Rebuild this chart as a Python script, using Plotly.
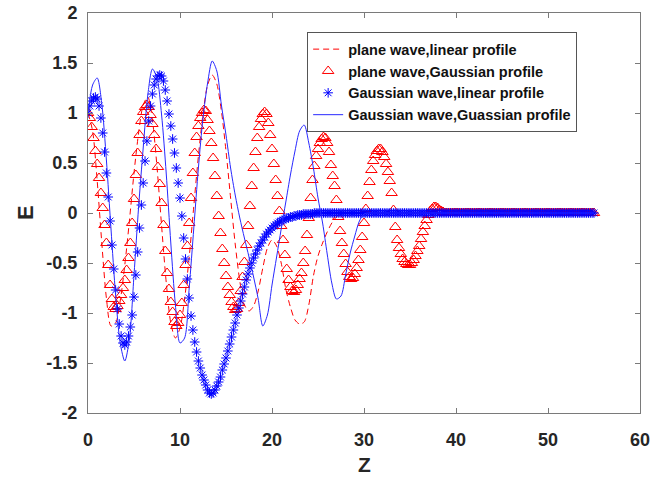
import numpy as np
import plotly.graph_objects as go

# sampling positions (z) for marker series (step 0.2) and line series (step 0.5)
Z_MARK = np.round(np.arange(276) * 0.2, 1)
Z_LINE = np.round(np.arange(111) * 0.5, 1)

# plane wave, linear profile (red dashed) - sampled on Z_LINE
plane_linear = [
    1.00, 0.82, 0.32, -0.30, -0.85, -1.13, -1.10, -0.88, -0.52, -0.08,
    0.40, 0.80, 1.08, 1.16, 0.93, 0.46, -0.13, -0.69, -1.10, -1.25,
    -1.15, -0.86, -0.44, 0.07, 0.57, 0.99, 1.28, 1.38, 1.29, 1.02,
    0.62, 0.15, -0.31, -0.68, -0.92, -0.98, -0.93, -0.78, -0.55, -0.35,
    -0.27, -0.33, -0.50, -0.76, -0.94, -1.07, -1.11, -1.09, -0.92, -0.63,
    -0.43, -0.30, -0.19, -0.10, -0.04, -0.01,
    0, 0, 0, 0, 0, 0, 0, 0, 0, 0, 0, 0, 0, 0, 0, 0, 0, 0, 0, 0,
    0, 0, 0, 0, 0, 0, 0, 0, 0, 0, 0, 0, 0, 0, 0, 0, 0, 0, 0, 0,
    0, 0, 0, 0, 0, 0, 0, 0, 0, 0, 0, 0, 0, 0, 0,
]

# plane wave, Gaussian profile (red triangles) - sampled on Z_MARK
plane_gauss = [
    1.00, 0.95, 0.86, 0.75, 0.62, 0.49, 0.35, 0.20, 0.05, -0.12,
    -0.30, -0.52, -0.72, -0.86, -0.94, -0.96, -0.93, -0.88, -0.82, -0.75,
    -0.67, -0.57, -0.45, -0.30, -0.10, 0.14, 0.38, 0.60, 0.78, 0.92,
    1.01, 1.06, 1.08, 1.06, 0.98, 0.89, 0.78, 0.64, 0.46, 0.29,
    0.10, -0.12, -0.38, -0.60, -0.76, -0.89, -0.99, -1.09, -1.13, -1.10,
    -1.02, -0.90, -0.72, -0.52, -0.33, -0.10, 0.15, 0.40, 0.60, 0.76,
    0.87, 0.95, 1.00, 1.03, 1.02, 0.93, 0.82, 0.70, 0.55, 0.37,
    0.17, -0.03, -0.20, -0.36, -0.50, -0.63, -0.74, -0.82, -0.89, -0.94,
    -0.97, -0.96, -0.90, -0.78, -0.64, -0.49, -0.32, -0.13, 0.07, 0.27,
    0.45, 0.61, 0.75, 0.86, 0.94, 0.99, 1.01, 0.99, 0.90, 0.78,
    0.64, 0.49, 0.33, 0.17, 0.02, -0.13, -0.27, -0.42, -0.56, -0.67,
    -0.74, -0.78, -0.79, -0.77, -0.72, -0.66, -0.60, -0.50, -0.38, -0.22,
    -0.05, 0.15, 0.33, 0.47, 0.57, 0.64, 0.70, 0.74, 0.76, 0.75,
    0.70, 0.61, 0.48, 0.37, 0.27, 0.13, -0.04, -0.18, -0.30, -0.41,
    -0.51, -0.59, -0.64, -0.66, -0.65, -0.61, -0.55, -0.47, -0.37, -0.24,
    -0.10, 0.04, 0.17, 0.31, 0.43, 0.52, 0.58, 0.62, 0.64, 0.64,
    0.61, 0.56, 0.49, 0.41, 0.32, 0.20, 0.03, -0.14, -0.27, -0.35,
    -0.41, -0.46, -0.49, -0.51, -0.52, -0.52, -0.50, -0.47, -0.43, -0.38,
    -0.33, -0.26, -0.19, -0.13, -0.07, -0.02, 0.02, 0.04, 0.06, 0.06,
    0.05, 0.03, 0.02, 0.01,
    0, 0, 0, 0, 0, 0, 0, 0, 0, 0, 0, 0, 0, 0, 0, 0, 0, 0, 0, 0,
    0, 0, 0, 0, 0, 0, 0, 0, 0, 0, 0, 0, 0, 0, 0, 0, 0, 0, 0, 0,
    0, 0, 0, 0, 0, 0, 0, 0, 0, 0, 0, 0, 0, 0, 0, 0, 0, 0, 0, 0,
    0, 0, 0, 0, 0, 0, 0, 0, 0, 0, 0, 0, 0, 0, 0, 0, 0, 0, 0, 0,
    0, 0,
]

# Gaussian wave, linear profile (blue stars) - sampled on Z_MARK
gauss_linear = [
    1.00, 1.07, 1.12, 1.15, 1.16, 1.14, 1.07, 0.95, 0.80, 0.61,
    0.40, 0.16, -0.08, -0.32, -0.56, -0.77, -0.96, -1.11, -1.23, -1.30,
    -1.32, -1.29, -1.23, -1.14, -1.02, -0.84, -0.62, -0.39, -0.15, 0.08,
    0.30, 0.52, 0.72, 0.92, 1.07, 1.19, 1.28, 1.34, 1.37, 1.38,
    1.37, 1.32, 1.23, 1.12, 0.99, 0.87, 0.74, 0.60, 0.45, 0.30,
    0.15, -0.03, -0.25, -0.46, -0.66, -0.85, -1.03, -1.17, -1.29, -1.39,
    -1.48, -1.55, -1.62, -1.67, -1.72, -1.77, -1.80, -1.81, -1.80, -1.77,
    -1.73, -1.69, -1.64, -1.57, -1.51, -1.45, -1.38, -1.31, -1.24, -1.17,
    -1.10, -1.02, -0.95, -0.88, -0.81, -0.74, -0.67, -0.61, -0.55, -0.50,
    -0.45, -0.41, -0.37, -0.33, -0.30, -0.27, -0.24, -0.21, -0.19, -0.17,
    -0.15, -0.13, -0.12, -0.10, -0.09, -0.08, -0.07, -0.06, -0.05, -0.05,
    -0.04, -0.04, -0.03, -0.03, -0.02, -0.02, -0.02, -0.01, -0.01, -0.01,
    -0.01, -0.01, -0.01,
    0, 0, 0, 0, 0, 0, 0, 0, 0, 0, 0, 0, 0, 0, 0, 0, 0, 0, 0, 0,
    0, 0, 0, 0, 0, 0, 0, 0, 0, 0, 0, 0, 0, 0, 0, 0, 0, 0, 0, 0,
    0, 0, 0, 0, 0, 0, 0, 0, 0, 0, 0, 0, 0, 0, 0, 0, 0, 0, 0, 0,
    0, 0, 0, 0, 0, 0, 0, 0, 0, 0, 0, 0, 0, 0, 0, 0, 0, 0, 0, 0,
    0, 0, 0, 0, 0, 0, 0, 0, 0, 0, 0, 0, 0, 0, 0, 0, 0, 0, 0, 0,
    0, 0, 0, 0, 0, 0, 0, 0, 0, 0, 0, 0, 0, 0, 0, 0, 0, 0, 0, 0,
    0, 0, 0, 0, 0, 0, 0, 0, 0, 0, 0, 0, 0, 0, 0, 0, 0, 0, 0, 0,
    0, 0, 0, 0, 0, 0, 0, 0, 0, 0, 0, 0, 0,
]

# Gaussian wave, Gaussian profile (blue solid) - sampled on Z_LINE
gauss_gauss = [
    1.00, 1.28, 1.35, 1.09, 0.53, -0.16, -0.82, -1.30, -1.48, -1.26,
    -0.62, 0.06, 0.65, 1.18, 1.44, 1.35, 0.98, 0.40, -0.30, -0.92,
    -1.30, -1.25, -0.75, -0.15, 0.45, 0.95, 1.30, 1.52, 1.42, 1.08,
    0.78, 0.45, 0.18, -0.05, -0.25, -0.44, -0.64, -0.86, -1.13, -1.02,
    -0.72, -0.44, -0.16, 0.11, 0.38, 0.62, 0.82, 0.88, 0.70, 0.45,
    0.15, -0.10, -0.41, -0.70, -0.86, -0.83, -0.62, -0.40, -0.23, -0.08,
    -0.01,
    0, 0, 0, 0, 0, 0, 0, 0, 0, 0, 0, 0, 0, 0, 0, 0, 0, 0, 0, 0,
    0, 0, 0, 0, 0, 0, 0, 0, 0, 0, 0, 0, 0, 0, 0, 0, 0, 0, 0, 0,
    0, 0, 0, 0, 0, 0, 0, 0, 0, 0,
]

X_TICKS = [0, 10, 20, 30, 40, 50, 60]
Y_TICKS = [-2, -1.5, -1, -0.5, 0, 0.5, 1, 1.5, 2]
Y_TICK_TEXT = ["-2", "-1.5", "-1", "-0.5", "0", "0.5", "1", "1.5", "2"]

FONT = "Liberation Sans, Arial, sans-serif"
TXT = "#262626"
AX = "#7a7a7a"

fig = go.Figure()
fig.add_trace(go.Scatter(
    x=Z_LINE, y=plane_linear, mode="lines", name="plane wave,linear profile",
    line=dict(color="rgb(255,0,0)", width=1, dash="6px,4px", shape="spline", smoothing=0.8),
))
fig.add_trace(go.Scatter(
    x=Z_MARK, y=plane_gauss, mode="markers", name="plane wave,Gaussian profile",
    marker=dict(symbol="triangle-up-open", size=10, color="rgb(255,0,0)", line=dict(width=1, color="rgb(255,0,0)")),
))
fig.add_trace(go.Scatter(
    x=Z_MARK, y=gauss_linear, mode="markers", name="Gaussian wave,linear profile",
    marker=dict(symbol="asterisk-open", size=8, color="rgb(0,0,255)", line=dict(width=1, color="rgb(0,0,255)")),
))
fig.add_trace(go.Scatter(
    x=Z_LINE, y=gauss_gauss, mode="lines", name="Gaussian wave,Guassian profile",
    line=dict(color="rgb(40,40,255)", width=1, shape="spline", smoothing=0.8),
))

axis_common = dict(
    showgrid=False, zeroline=False, showline=True, linecolor=AX, linewidth=1,
    mirror="ticks", ticks="inside", ticklen=5, tickcolor=AX, tickwidth=1,
    automargin=False,
    tickfont=dict(family=FONT, size=18, color=TXT, weight="bold"),
)

fig.update_layout(
    width=662, height=478,
    margin=dict(l=88, r=22, t=13, b=65, autoexpand=False),
    paper_bgcolor="white", plot_bgcolor="white",
    xaxis=dict(range=[0, 60], tickvals=X_TICKS, ticklabelstandoff=10, **axis_common),
    yaxis=dict(range=[-2, 2], tickvals=Y_TICKS, ticktext=Y_TICK_TEXT, ticklabelstandoff=6, **axis_common),
    legend=dict(x=0.397, y=0.952, xanchor="left", yanchor="top",
                bgcolor="white", bordercolor="#555555", borderwidth=1,
                font=dict(family=FONT, size=14.5, color="#111111", weight="bold"),
                tracegroupgap=0, itemwidth=30),
    showlegend=True,
    annotations=[
        dict(text="Z", xref="paper", yref="paper", x=0.5, y=-0.128, xanchor="center", yanchor="middle",
             showarrow=False, borderpad=0, font=dict(family=FONT, size=21, color=TXT, weight="bold")),
        dict(text="E", xref="paper", yref="paper", x=-0.114, y=0.5, xanchor="center", yanchor="middle",
             textangle=-90, showarrow=False, font=dict(family=FONT, size=22, color=TXT, weight="bold")),
    ],
)

fig.write_html("out.html", config={"displayModeBar": False},
               post_script="document.body.style.margin='0';")
